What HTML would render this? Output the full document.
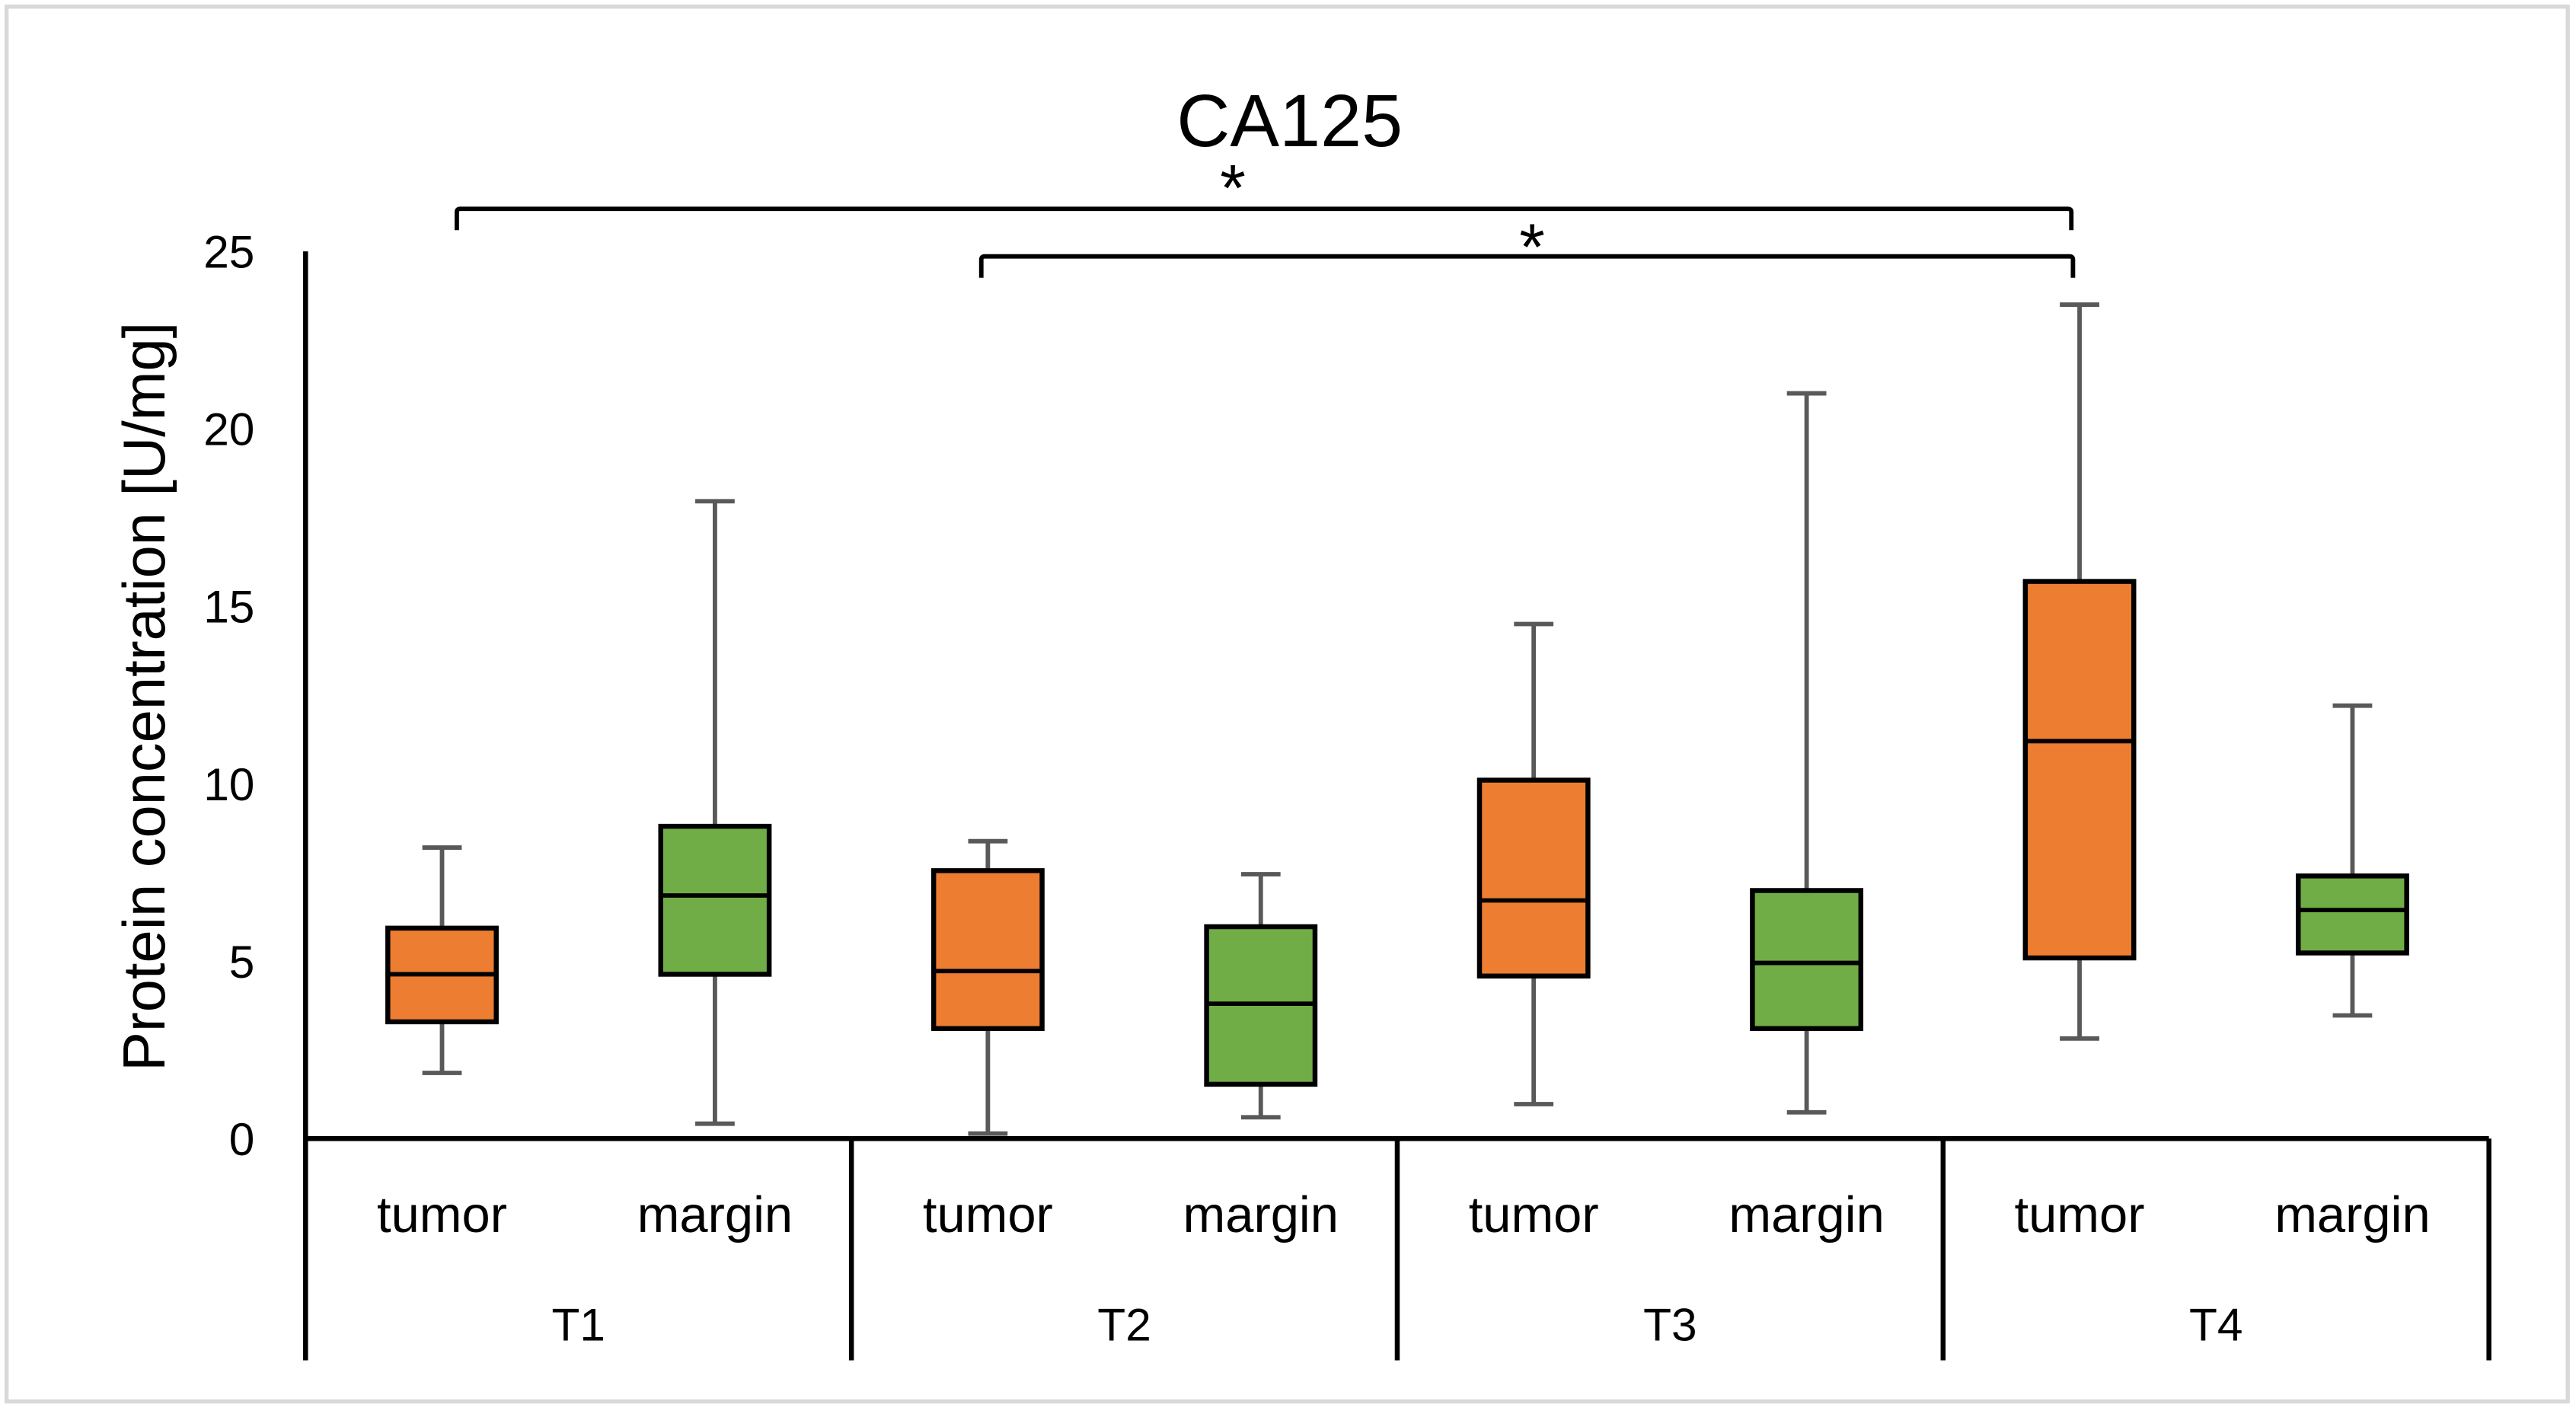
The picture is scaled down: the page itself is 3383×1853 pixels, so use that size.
<!DOCTYPE html>
<html><head><meta charset="utf-8"><style>
html,body{margin:0;padding:0;background:#fff;}
svg{display:block;}
text{font-family:"Liberation Sans",sans-serif;fill:#000;}
</style></head><body>
<svg id="chart" width="3383" height="1853" viewBox="0 0 1568 858.8" xmlns="http://www.w3.org/2000/svg">
<rect x="4" y="4" width="1559" height="849" fill="#fff" stroke="#d9d9d9" stroke-width="2.5"/>
<text x="785" y="89" font-size="45" text-anchor="middle">CA125</text>
<text transform="translate(100,424) rotate(-90)" font-size="36" text-anchor="middle">Protein concentration [U/mg]</text>
<g id="axes"></g>
<g id="boxes"></g>
<g id="brackets"></g>
</svg>
<script>
const groups = ["T1","T2","T3","T4"];
const series = ["tumor","margin"];
const yTicks = [0,5,10,15,20,25];
const minVals = [1.85,0.42,0.14,0.6,0.97,0.74,2.82,3.47];
const q1Vals = [3.29,4.63,3.1,1.53,4.58,3.1,5.09,5.23];
const medVals = [4.63,6.85,4.72,3.8,6.71,4.95,11.2,6.44];
const q3Vals = [5.93,8.8,7.55,5.97,10.1,6.99,15.7,7.4];
const maxVals = [8.2,17.96,8.38,7.45,14.5,21.0,23.5,12.2];
const brackets = [[0,6,26.2,"*"],[2,6,24.86,"*"]];

const NS="http://www.w3.org/2000/svg";
const X0=186, X1=1515, Y0=693, YT=153, yMax=25;
const gW=(X1-X0)/groups.length;
const y=v=>Y0-(v/yMax)*(Y0-YT);
const xc=i=>X0+Math.floor(i/2)*gW+(i%2===0?gW/4:3*gW/4);
function mk(tag,attrs,parent){const e=document.createElementNS(NS,tag);for(const k in attrs)e.setAttribute(k,attrs[k]);parent.appendChild(e);return e;}
const axes=document.getElementById('axes'),boxes=document.getElementById('boxes'),br=document.getElementById('brackets');

let l=mk('line',{x1:X0,y1:YT,x2:X0,y2:828,stroke:'#000','stroke-width':3},axes);


l=mk('line',{x1:X0,y1:Y0,x2:X1,y2:Y0,stroke:'#000','stroke-width':3},axes);


yTicks.forEach(t=>{
  const e=mk('text',{x:155,y:y(t)+10,'font-size':28,'text-anchor':'end'},axes);
  e.textContent=t;
  
  
});
groups.forEach((g,gi)=>{
  const xr=X0+(gi+1)*gW;
  const d=mk('line',{x1:xr,y1:Y0,x2:xr,y2:828,stroke:'#000','stroke-width':3},axes);
  
  
  const e=mk('text',{x:X0+gi*gW+gW/2,y:816,'font-size':28,'text-anchor':'middle'},axes);
  e.textContent=g;
  
  
  series.forEach((s,si)=>{
    const t=mk('text',{x:xc(gi*2+si),y:750,'font-size':31,'text-anchor':'middle'},axes);
    t.textContent=s;
    
    
  });
});
const bw=66;
minVals.forEach((_,i)=>{
  const cx=xc(i), col=i%2===0?'#ed7d31':'#70ad47';
  const g=mk('g',{},boxes);
  
  
  const wc='#595959';
  mk('line',{x1:cx,y1:y(maxVals[i]),x2:cx,y2:y(q3Vals[i]),stroke:wc,'stroke-width':2.7},g);
  mk('line',{x1:cx,y1:y(q1Vals[i]),x2:cx,y2:y(minVals[i]),stroke:wc,'stroke-width':2.7},g);
  mk('line',{x1:cx-12,y1:y(maxVals[i]),x2:cx+12,y2:y(maxVals[i]),stroke:wc,'stroke-width':2.7},g);
  mk('line',{x1:cx-12,y1:y(minVals[i]),x2:cx+12,y2:y(minVals[i]),stroke:wc,'stroke-width':2.7},g);
  mk('rect',{x:cx-bw/2,y:y(q3Vals[i]),width:bw,height:y(q1Vals[i])-y(q3Vals[i]),fill:col,stroke:'#000','stroke-width':3},g);
  mk('line',{x1:cx-bw/2,y1:y(medVals[i]),x2:cx+bw/2,y2:y(medVals[i]),stroke:'#000','stroke-width':2.7},g);
});
brackets.forEach(b=>{
  const xa=xc(b[0])+(b[0]===0?9:-4), xb=xc(b[1])-5+(b[0]===0?0:1), yy=y(b[2]);
  const p=mk('path',{d:`M${xa},${yy+13} L${xa},${yy+2} Q${xa},${yy} ${xa+2},${yy} L${xb-2},${yy} Q${xb},${yy} ${xb},${yy+2} L${xb},${yy+13}`,fill:'none',stroke:'#000','stroke-width':2.7},br);
  
  
  const s=mk('text',{x:(xa+xb)/2+(b[0]===0?-19:3),y:yy+(b[0]===0?1:8),'font-size':40,'text-anchor':'middle'},br);
  s.textContent=b[3];
  
  
});
</script>
</body></html>
